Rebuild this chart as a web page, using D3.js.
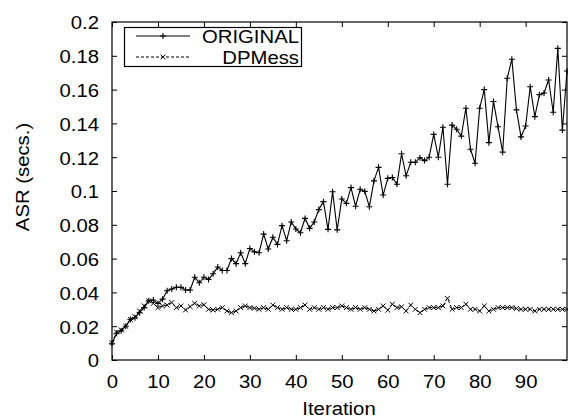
<!DOCTYPE html>
<html>
<head>
<meta charset="utf-8">
<script src="https://cdn.jsdelivr.net/npm/d3@7"></script>
<style>
  html, body { margin: 0; padding: 0; background: #fff; }
  svg { display: block; }
  text { font-family: "Liberation Sans", Arial, Helvetica, sans-serif; fill: #000; }
</style>
</head>
<body>
<svg id="chart" width="568" height="416"></svg>
<script>
// ---- data ----
const seriesNames = ["ORIGINAL", "DPMess"];
const original = [
  0.0099, 0.0158, 0.0173, 0.020, 0.024, 0.025, 0.028, 0.031, 0.035, 0.0355,
  0.0335, 0.036, 0.041, 0.042, 0.043, 0.043, 0.0414, 0.0414, 0.049, 0.0457,
  0.049, 0.0477, 0.051, 0.055, 0.053, 0.053, 0.060, 0.057, 0.0635, 0.057,
  0.066, 0.064, 0.0635, 0.0745, 0.0657, 0.0726, 0.0684, 0.0795, 0.0706, 0.0817,
  0.0775, 0.0753, 0.0838, 0.0779, 0.0817, 0.089, 0.0937, 0.0773, 0.0996, 0.077,
  0.0953, 0.0927, 0.102, 0.091, 0.101, 0.0998, 0.0907, 0.106, 0.114, 0.0976,
  0.1075, 0.108, 0.104, 0.122, 0.109, 0.117, 0.117, 0.1197, 0.118, 0.120,
  0.1335, 0.120, 0.1377, 0.104, 0.139, 0.1365, 0.1325, 0.149, 0.1247, 0.1164,
  0.149, 0.160, 0.1286, 0.153, 0.138, 0.123, 0.1667, 0.178, 0.148, 0.132,
  0.1385, 0.1617, 0.144, 0.157, 0.158, 0.1657, 0.1466, 0.1844, 0.136, 0.171
];
const dpmess = [
  0.0102, 0.0165, 0.0178, 0.020, 0.024, 0.0256, 0.029, 0.032, 0.035, 0.0335,
  0.031, 0.032, 0.0325, 0.034, 0.031, 0.032, 0.0296, 0.0316, 0.0335, 0.032,
  0.0327, 0.030, 0.0296, 0.030, 0.031, 0.029, 0.028, 0.029, 0.031, 0.032,
  0.031, 0.0306, 0.030, 0.031, 0.030, 0.0325, 0.031, 0.030, 0.031, 0.030,
  0.030, 0.031, 0.0325, 0.030, 0.031, 0.030, 0.031, 0.030, 0.031, 0.031,
  0.032, 0.031, 0.030, 0.031, 0.030, 0.031, 0.030, 0.029, 0.030, 0.032,
  0.0295, 0.033, 0.031, 0.0315, 0.029, 0.0325, 0.030, 0.028, 0.030, 0.031,
  0.031, 0.031, 0.032, 0.0365, 0.030, 0.031, 0.031, 0.033, 0.030, 0.030,
  0.029, 0.032, 0.029, 0.030, 0.031, 0.031, 0.031, 0.031, 0.0305, 0.030,
  0.030, 0.030, 0.029, 0.030, 0.030, 0.030, 0.030, 0.030, 0.030, 0.030
];
const xTicks = [0, 10, 20, 30, 40, 50, 60, 70, 80, 90];
const yTicks = [0, 0.02, 0.04, 0.06, 0.08, 0.1, 0.12, 0.14, 0.16, 0.18, 0.2];
const xLabel = "Iteration";
const yLabel = "ASR (secs.)";

// ---- layout ----
const L = 112, R = 567, T = 22, B = 360;
const FS = 19, SX = 1.07;
const svg = d3.select("#chart");
const x = d3.scaleLinear().domain([0, 99]).range([L, R]);
const y = d3.scaleLinear().domain([0, 0.2]).range([B, T]);

// frame
svg.append("rect").attr("x", L).attr("y", T).attr("width", R - L).attr("height", B - T)
  .attr("fill", "none").attr("stroke", "#000").attr("stroke-width", 1.2);

// axes with inward ticks (mirrored)
const tl = 5;
const fmtY = d => d === 0 ? "0" : String(+d.toFixed(2));
const axB = d3.axisBottom(x).tickValues(xTicks).tickSize(-tl).tickFormat(d3.format("d"));
const axT = d3.axisTop(x).tickValues(xTicks).tickSize(-tl).tickFormat("");
const axL = d3.axisLeft(y).tickValues(yTicks).tickSize(-tl).tickFormat(fmtY);
const axR = d3.axisRight(y).tickValues(yTicks).tickSize(-tl).tickFormat("");

function style(g) {
  g.select(".domain").remove();
  g.selectAll("line").attr("stroke", "#000").attr("stroke-width", 1);
  g.selectAll("text").attr("font-size", FS).attr("font-family", "Liberation Sans, Arial, sans-serif").attr("fill", "#000");
}
svg.append("g").attr("transform", `translate(0,${B})`).call(axB).call(style)
  .selectAll("text").attr("x", 0).attr("y", 0).attr("dy", null)
  .attr("transform", `translate(0,28) scale(${SX},1)`);
svg.append("g").attr("transform", `translate(${R},0)`).call(axR).call(style);
svg.append("g").attr("transform", `translate(0,${T})`).call(axT).call(style);
svg.append("g").attr("transform", `translate(${L},0)`).call(axL).call(style)
  .selectAll("text").attr("x", 0).attr("dy", "0.36em")
  .attr("transform", `translate(-13,0) scale(${SX},1)`);

// axis labels
svg.append("text").attr("transform", `translate(${(L + R) / 2 - 0.5},415) scale(${SX},1)`)
  .attr("text-anchor", "middle").attr("font-size", FS).text(xLabel);
svg.append("text").attr("transform", `translate(29,177) rotate(-90) scale(${SX},1)`)
  .attr("text-anchor", "middle").attr("font-size", FS).text(yLabel);

// series
const line = d3.line().x((d, i) => x(i)).y(d => y(d));
const ms = 3;
function plus(g, cx, cy) {
  g.append("path").attr("d", `M${cx - ms},${cy}H${cx + ms}M${cx},${cy - ms}V${cy + ms}`)
    .attr("stroke", "#000").attr("stroke-width", 1.1).attr("fill", "none");
}
function cross(g, cx, cy) {
  const s = ms * 0.8;
  g.append("path").attr("d", `M${cx - s},${cy - s}L${cx + s},${cy + s}M${cx - s},${cy + s}L${cx + s},${cy - s}`)
    .attr("stroke", "#000").attr("stroke-width", 1).attr("fill", "none");
}

const gO = svg.append("g");
gO.append("path").datum(original).attr("d", line).attr("fill", "none")
  .attr("stroke", "#000").attr("stroke-width", 1.1);
original.forEach((v, i) => plus(gO, x(i), y(v)));

const gD = svg.append("g");
gD.append("path").datum(dpmess).attr("d", line).attr("fill", "none")
  .attr("stroke", "#000").attr("stroke-width", 1).attr("stroke-dasharray", "3,2");
dpmess.forEach((v, i) => cross(gD, x(i), y(v)));

// legend
const lg = svg.append("g");
lg.append("rect").attr("x", 124.5).attr("y", 27.5).attr("width", 177).attr("height", 39)
  .attr("fill", "#fff").attr("stroke", "#000").attr("stroke-width", 1.2);
const rows = [{name: seriesNames[0], y: 36, dash: null, mark: plus},
              {name: seriesNames[1], y: 57, dash: "3,2", mark: cross}];
rows.forEach(r => {
  lg.append("line").attr("x1", 136).attr("x2", 190).attr("y1", r.y).attr("y2", r.y)
    .attr("stroke", "#000").attr("stroke-width", 1).attr("stroke-dasharray", r.dash);
  r.mark(lg, 163, r.y);
  lg.append("text").attr("transform", `translate(299,${r.y}) scale(${SX},1)`).attr("dy", "0.36em")
    .attr("text-anchor", "end").attr("font-size", FS).text(r.name);
});
</script>
</body>
</html>
